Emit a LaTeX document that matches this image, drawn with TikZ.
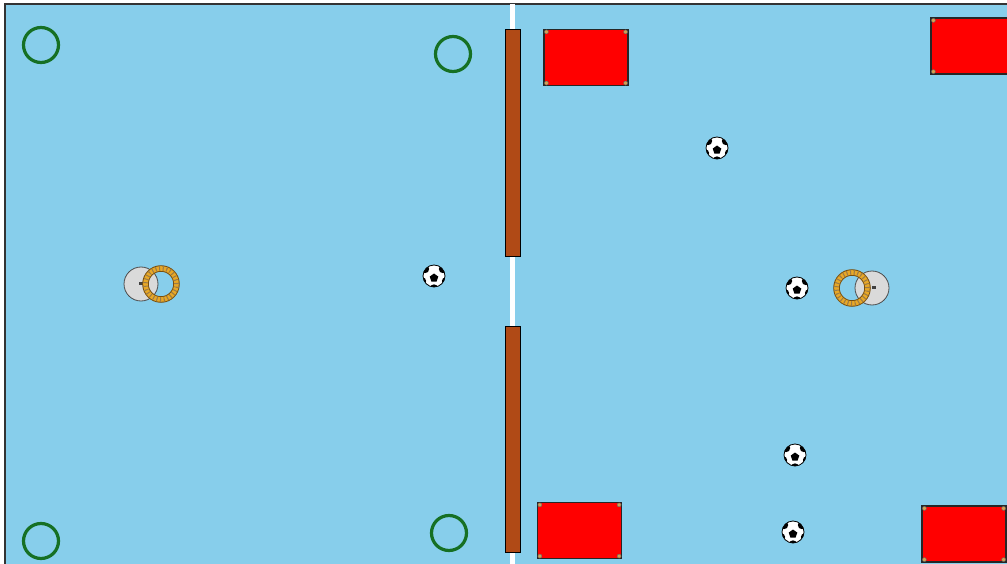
\documentclass[tikz,border=0pt]{standalone}
\definecolor{skyfield}{RGB}{135,206,235}
\definecolor{wallbrown}{RGB}{176,74,22}
\definecolor{goalgreen}{RGB}{22,112,36}
\definecolor{ropegold}{RGB}{232,168,38}
\definecolor{ropedark}{RGB}{120,78,12}
\definecolor{bodygray}{RGB}{218,218,218}
\definecolor{cornertan}{RGB}{214,160,80}
\begin{document}
\begin{tikzpicture}[x=1pt,y=-1pt,
    goal/.style={draw=goalgreen, circle, line width=3.2pt, minimum size=35pt, inner sep=0pt},
    wall/.style={draw=black, fill=wallbrown, line width=1pt, minimum width=15pt, inner sep=0pt},
    box/.style={draw=black!85, fill=red, line width=1.2pt, minimum width=84pt, minimum height=56pt, inner sep=0pt},
    corner/.style={circle, fill=cornertan, draw=black!60, line width=0.4pt, minimum size=4pt, inner sep=0pt},
    body/.style={circle, fill=bodygray, draw=black!70, line width=0.8pt, minimum size=34pt, inner sep=0pt},
    stub/.style={fill=black!75, minimum width=4pt, minimum height=3pt, inner sep=0pt},
    ring/.style={circle, minimum size=31pt, inner sep=0pt, draw=ropedark, line width=6.5pt,
      postaction={draw=ropegold, line width=4.6pt},
      postaction={draw=ropedark!75, line width=4.6pt, dash pattern=on 1pt off 2.6pt}},
    ball/.style={circle, draw=black, fill=white, line width=0.8pt, minimum size=22pt, inner sep=0pt,
      path picture={
        \begin{scope}[shift={(path picture bounding box.center)}]
          \fill[black] (0,-2.5) -- (4.3,0.6) -- (2.6,5.6) -- (-2.6,5.6) -- (-4.3,0.6) -- cycle;
          \fill[black] (-9,-7) circle (4.2) (9,-7) circle (4.2) (-11.5,5) circle (3.6)
                (11.5,5) circle (3.6) (0,12.5) circle (4.2);
        \end{scope}}}
]
\useasboundingbox (0,0) rectangle (1007,564);
\clip (0,0) rectangle (1007,564);

% field
\fill[white] (0,0) rectangle (1007,564);
\draw[fill=skyfield, draw=black!80, line width=1.5pt] (5,4) rectangle (1030,590);
\draw[white, line width=5pt] (512,4) -- (512,566);

% walls along the middle line
\node[wall, minimum height=227pt] (wall1) at (512.5,143.5) {};
\node[wall, minimum height=226pt] (wall2) at (512.5,439) {};

% goals
\foreach \n/\x/\y in {1/41/45, 2/453/54, 3/41/541, 4/449/533} {
  \node[goal] (goal\n) at (\x,\y) {};
}

% red boxes
\foreach \n/\x/\y in {1/586/57.5, 2/973/46, 3/579.5/530.5, 4/964/534} {
  \node[box] (box\n) at (\x,\y) {};
  \node[corner] (box\n nw) at ([shift={(3,3)}]box\n.north west) {};
  \node[corner] (box\n ne) at ([shift={(-3,3)}]box\n.north east) {};
  \node[corner] (box\n sw) at ([shift={(3,-3)}]box\n.south west) {};
  \node[corner] (box\n se) at ([shift={(-3,-3)}]box\n.south east) {};
}

% balls
\foreach \n/\x/\y in {1/434/276, 2/717/148, 3/797/288, 4/795/455, 5/793/532} {
  \node[ball] (ball\n) at (\x,\y) {};
}

% robots
\node[body] (body1) at (141,284) {};
\node[stub] (stub1) at (141,283.5) {};
\node[ring] (ring1) at (161,284) {};

\node[body] (body2) at (872,288) {};
\node[stub] (stub2) at (874,287) {};
\node[ring] (ring2) at (852,288) {};
\end{tikzpicture}
\end{document}
